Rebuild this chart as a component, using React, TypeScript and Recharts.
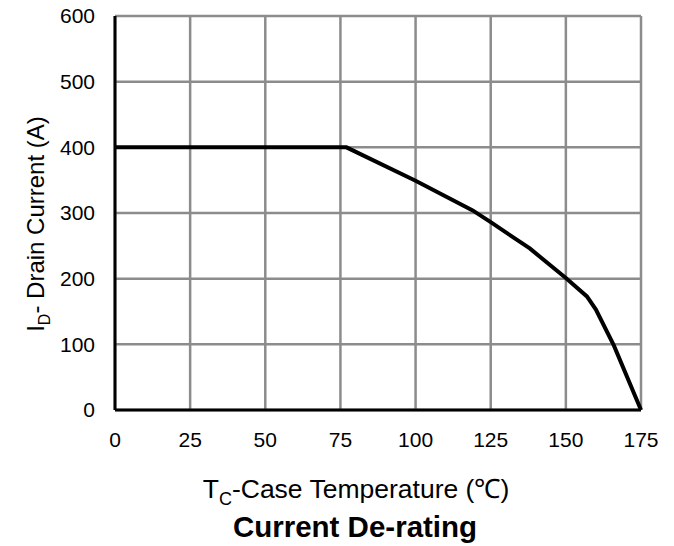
import React from 'react';
import { LineChart, Line, XAxis, YAxis, CartesianGrid } from 'recharts';

const temps = [0, 25, 50, 77, 100, 119, 125, 138, 150, 157, 160, 166, 175];
const current = [400, 400, 400, 400, 349, 304, 286, 246, 201, 173, 153, 98, 0];
const xTicks = [0, 25, 50, 75, 100, 125, 150, 175];
const yTicks = [0, 100, 200, 300, 400, 500, 600];

const data = temps.map((t, i) => ({ t, i: current[i] }));

const font = 'Arial, "Liberation Sans", sans-serif';

export default function App() {
  return (
    <div style={{ position: 'relative', width: 666, height: 546, marginTop: -8, fontFamily: font }}>
      <LineChart
        width={666}
        height={546}
        data={data}
        margin={{ top: 16, right: 33, left: 0, bottom: 94 }}
      >
        <CartesianGrid stroke="#8c8c8c" strokeWidth={2.5} />
        <XAxis
          dataKey="t"
          type="number"
          domain={[0, 175]}
          ticks={xTicks}
          interval={0}
          tickLine={false}
          axisLine={{ stroke: '#000', strokeWidth: 3 }}
          tick={{ fill: '#000', fontSize: 21, fontFamily: font }}
          tickMargin={16}
          height={42}
        />
        <YAxis
          type="number"
          domain={[0, 600]}
          ticks={yTicks}
          interval={0}
          tickLine={false}
          axisLine={{ stroke: '#000', strokeWidth: 3 }}
          tick={{ fill: '#000', fontSize: 21, fontFamily: font }}
          tickMargin={14}
          width={107}
        />
        <Line
          dataKey="i"
          stroke="#000"
          strokeWidth={4}
          dot={false}
          type="linear"
          isAnimationActive={false}
        />
      </LineChart>
      <div
        style={{
          position: 'absolute',
          left: 30,
          top: 224,
          transform: 'translate(-50%, -50%) rotate(-90deg)',
          whiteSpace: 'nowrap',
          fontSize: 24,
        }}
      >
        I<sub style={{ fontSize: 16 }}>D</sub>- Drain Current (A)
      </div>
      <div
        style={{
          position: 'absolute',
          left: 348,
          top: 490,
          transform: 'translate(-50%, -50%)',
          whiteSpace: 'nowrap',
          fontSize: 26.5,
        }}
      >
        T<sub style={{ fontSize: 18 }}>C</sub>-Case Temperature (℃)
      </div>
      <div
        style={{
          position: 'absolute',
          left: 347,
          top: 527,
          transform: 'translate(-50%, -50%)',
          whiteSpace: 'nowrap',
          fontSize: 29.5,
          fontWeight: 'bold',
        }}
      >
        Current De-rating
      </div>
    </div>
  );
}
